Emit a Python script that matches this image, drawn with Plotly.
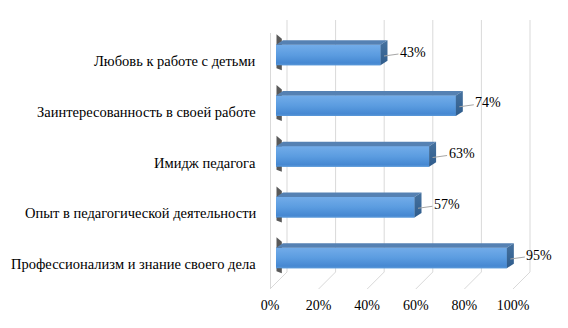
import plotly.graph_objects as go

categories = ["Любовь к работе с детьми", "Заинтересованность в своей работе",
              "Имидж педагога", "Опыт в педагогической деятельности",
              "Профессионализм и знание своего дела"]
values = [43, 74, 63, 57, 95]
tick_vals = [0, 20, 40, 60, 80, 100]
tick_text = ["0%", "20%", "40%", "60%", "80%", "100%"]

W, H = 568, 328
# pixel mapping of the front plane
PX0, PX_PER = 276.0, 2.43        # x: 0% at 276px, 2.43 px per %
PY0, PY_PER = 55.0, 50.75        # y: first category centre at 55px

def xd(px):
    return (px - PX0) / PX_PER

def yd(py):
    return (py - PY0) / PY_PER

FONT = "Liberation Serif, Times New Roman, serif"
half = 0.2                 # half bar thickness (category units)
dx = 7 / PX_PER            # depth offset in x (data units)
dy = 4.5 / PY_PER          # depth offset in y (data units)

fig = go.Figure()
shapes = []

# back-wall grid lines, floor lines and left wall edge
back_off = xd(287)
front_off = xd(270)
y_top = yd(20)
y_back_floor = yd(272)
y_front_floor = yd(289)
for t in tick_vals:
    shapes.append(dict(type="line", xref="x", yref="y", x0=t + back_off, x1=t + back_off,
                       y0=y_top, y1=y_back_floor, line=dict(color="#d9d9d9", width=1), layer="below"))
    shapes.append(dict(type="line", xref="x", yref="y", x0=t + back_off, x1=t + front_off,
                       y0=y_back_floor, y1=y_front_floor, line=dict(color="#d9d9d9", width=1), layer="below"))
shapes.append(dict(type="line", xref="x", yref="y", x0=xd(270.5), x1=xd(270.5),
                   y0=yd(33), y1=y_front_floor, line=dict(color="#d9d9d9", width=1), layer="below"))

idx = list(range(len(categories)))

# left-end shadows on side wall
for i in idx:
    fig.add_trace(go.Scatter(
        x=[0.2, 2.4, 2.4, 0.2, 0.2],
        y=[i - half - dy - 0.12, i - half - dy - 0.03, i + half + 0.1, i + half + 0.06, i - half - dy - 0.12],
        fill="toself", fillcolor="rgba(60,60,60,0.85)", line=dict(width=0),
        mode="lines", hoverinfo="skip", showlegend=False))

# front faces (bars)
fig.add_trace(go.Bar(x=values, y=idx, orientation="h", width=2 * half,
                     marker=dict(color="#5a9ade", line=dict(width=0)),
                     hoverinfo="skip", showlegend=False))

for i, v in zip(idx, values):
    # gradient overlay for front face
    fig.add_trace(go.Scatter(
        x=[0, v, v, 0, 0], y=[i - half, i - half, i + half, i + half, i - half],
        fill="toself", mode="lines", line=dict(width=0),
        fillgradient=dict(type="vertical", start=i - half, stop=i + half,
                          colorscale=[[0, "#72ace9"], [0.5, "#5b9ce0"], [0.9, "#4688d2"], [1, "#5a98d8"]]),
        hoverinfo="skip", showlegend=False))
    # top face
    fig.add_trace(go.Scatter(
        x=[0, v, v + dx, dx, 0],
        y=[i - half, i - half, i - half - dy, i - half - dy, i - half],
        fill="toself", fillcolor="#5581b3", mode="lines", line=dict(width=0),
        hoverinfo="skip", showlegend=False))
    # end face
    fig.add_trace(go.Scatter(
        x=[v, v + dx, v + dx, v, v],
        y=[i - half, i - half - dy, i + half - dy, i + half, i - half],
        fill="toself", mode="lines", line=dict(width=0),
        fillgradient=dict(type="vertical", start=i - half - dy, stop=i + half,
                          colorscale=[[0, "#46729f"], [1, "#2f5c8c"]]),
        hoverinfo="skip", showlegend=False))

annotations = []
for i, (c, v) in enumerate(zip(categories, values)):
    annotations.append(dict(x=xd(258), y=i + 0.12, xref="x", yref="y", text=c,
                            showarrow=False, xanchor="right", yanchor="middle",
                            font=dict(family=FONT, size=14.5, color="#000000")))
    annotations.append(dict(x=v + dx / 2, y=i + 0.02, xref="x", yref="y", text=f"{v}%",
                            showarrow=True, arrowhead=0, arrowwidth=1, arrowcolor="#a6a6a6",
                            ax=29, ay=-4, axref="pixel", ayref="pixel", standoff=0, startstandoff=0,
                            font=dict(family=FONT, size=14, color="#000000")))

# invisible trace to carry the tick-label axis
fig.add_trace(go.Scatter(x=[0, 100], y=[0, 0], xaxis="x2", yaxis="y", mode="markers",
                         marker=dict(opacity=0), hoverinfo="skip", showlegend=False))

fig.update_layout(
    width=W, height=H, autosize=False,
    margin=dict(l=0, r=0, t=0, b=0, pad=0, autoexpand=False),
    paper_bgcolor="white", plot_bgcolor="rgba(0,0,0,0)",
    barmode="overlay",
    xaxis=dict(domain=[0, 1], range=[xd(0), xd(W)], visible=False, fixedrange=True,
               automargin=False),
    yaxis=dict(domain=[0, 1], range=[yd(H), yd(0)], visible=False, fixedrange=True,
               automargin=False),
    xaxis2=dict(domain=[270 / W, 513 / W], range=[0, 100], anchor="free",
                position=1 - 289 / H, tickvals=tick_vals, ticktext=tick_text,
                showgrid=False, zeroline=False, showline=False, ticks="",
                ticklabelstandoff=6, automargin=False,
                tickfont=dict(family=FONT, size=14, color="#000000")),
    shapes=shapes, annotations=annotations, showlegend=False,
)

fig.write_html("out.html", config={"responsive": False, "displayModeBar": False},
               post_script="document.body.style.margin='0';document.body.style.overflow='hidden';")
